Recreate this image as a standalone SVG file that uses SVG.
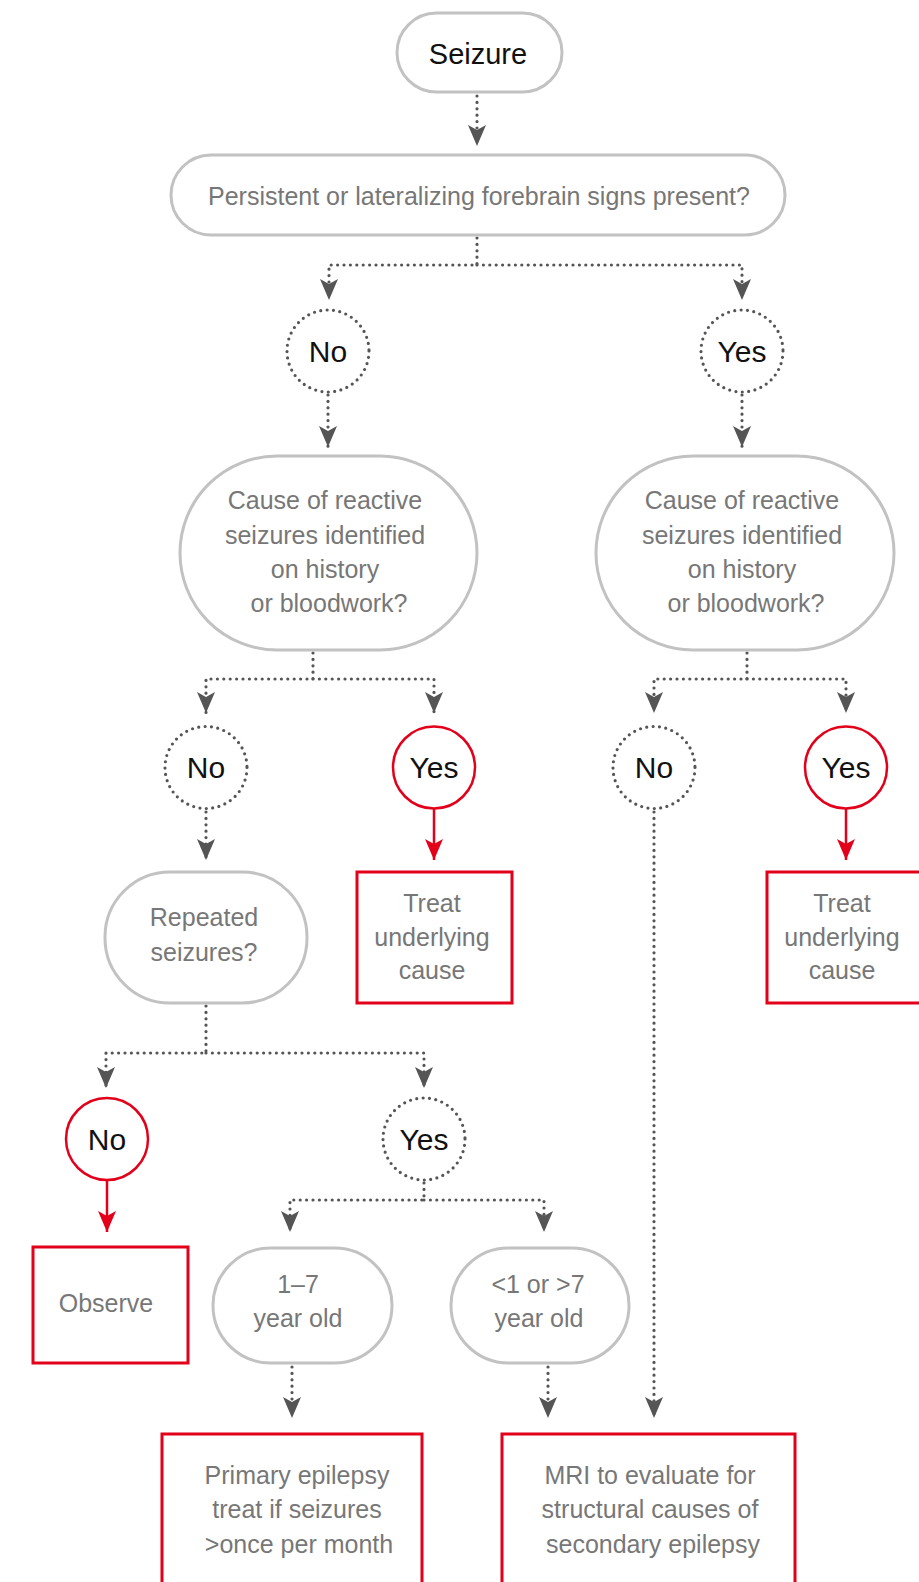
<svg xmlns="http://www.w3.org/2000/svg" width="919" height="1582" viewBox="0 0 919 1582">
<style>
.pill{fill:#fff;stroke:#c2c2c2;stroke-width:3}
.box{fill:#fff;stroke:#e2001a;stroke-width:3}
.rc{fill:#fff;stroke:#e2001a;stroke-width:2.5}
.dc{fill:#fff;stroke:#555;stroke-width:3.2;stroke-dasharray:0 6.4;stroke-linecap:round}
.t{font-family:"Liberation Sans",Arial,sans-serif;font-size:25px;fill:#777;text-anchor:middle}
.lb{font-family:"Liberation Sans",Arial,sans-serif;font-size:30px;fill:#111;text-anchor:middle}
.sz{font-family:"Liberation Sans",Arial,sans-serif;font-size:29px;fill:#111;text-anchor:middle}
.dl{fill:none;stroke:#555;stroke-width:3.2;stroke-dasharray:0 6.4;stroke-linecap:round;stroke-linejoin:round}
.rl{fill:none;stroke:#e2001a;stroke-width:2.5}
</style>
<defs>
<marker id="ag" markerUnits="userSpaceOnUse" viewBox="-22 -10 24 20" refX="0" refY="0" markerWidth="24" markerHeight="20" orient="auto">
<path d="M0,0 L-21,-9 L-16,0 L-21,9 Z" fill="#555"/>
</marker>
<marker id="ar" markerUnits="userSpaceOnUse" viewBox="-22 -10 24 20" refX="0" refY="0" markerWidth="24" markerHeight="20" orient="auto">
<path d="M0,0 L-21,-9 L-16,0 L-21,9 Z" fill="#e2001a"/>
</marker>
</defs>

<g id="connectors">
<path class="dl" d="M477,96 V146" marker-end="url(#ag)"/>
<path class="dl" d="M477,238 V265 H329 V300" marker-end="url(#ag)"/>
<path class="dl" d="M477,265 H742 V300" marker-end="url(#ag)"/>
<path class="dl" d="M328,395 V447" marker-end="url(#ag)"/>
<path class="dl" d="M742,395 V447" marker-end="url(#ag)"/>
<path class="dl" d="M313,653 V679 H206 V713" marker-end="url(#ag)"/>
<path class="dl" d="M313,679 H434 V713" marker-end="url(#ag)"/>
<path class="dl" d="M747,653 V679 H654 V713" marker-end="url(#ag)"/>
<path class="dl" d="M747,679 H846 V713" marker-end="url(#ag)"/>
<path class="dl" d="M206,812 V860" marker-end="url(#ag)"/>
<path class="rl" d="M434,809 V860" marker-end="url(#ar)"/>
<path class="rl" d="M846,809 V860" marker-end="url(#ar)"/>
<path class="dl" d="M654,812 V1418" marker-end="url(#ag)"/>
<path class="dl" d="M206,1006 V1053 H106 V1088" marker-end="url(#ag)"/>
<path class="dl" d="M206,1053 H424 V1088" marker-end="url(#ag)"/>
<path class="rl" d="M107,1180 V1232" marker-end="url(#ar)"/>
<path class="dl" d="M424,1183 V1200 H290 V1232" marker-end="url(#ag)"/>
<path class="dl" d="M424,1200 H544 V1232" marker-end="url(#ag)"/>
<path class="dl" d="M292,1367 V1418" marker-end="url(#ag)"/>
<path class="dl" d="M548,1367 V1418" marker-end="url(#ag)"/>
</g>

<g id="seizure">
<rect class="pill" x="397" y="13" width="165" height="79" rx="39.5"/>
<text class="sz" x="478" y="64">Seizure</text>
</g>
<g id="persistent">
<rect class="pill" x="171" y="155" width="614" height="80" rx="40"/>
<text class="t" x="479" y="205">Persistent or lateralizing forebrain signs present?</text>
</g>
<g id="no1">
<circle class="dc" cx="328" cy="351" r="41"/>
<text class="lb" x="328" y="362">No</text>
</g>
<g id="yes1">
<circle class="dc" cx="742" cy="351" r="41"/>
<text class="lb" x="742" y="362">Yes</text>
</g>
<g id="cause-left">
<rect class="pill" x="180" y="456" width="297" height="194" rx="97"/>
<text class="t" x="325" y="509">Cause of reactive</text>
<text class="t" x="325" y="544">seizures identified</text>
<text class="t" x="325" y="578">on history</text>
<text class="t" x="329" y="612">or bloodwork?</text>
</g>
<g id="cause-right">
<rect class="pill" x="596" y="456" width="298" height="194" rx="97"/>
<text class="t" x="742" y="509">Cause of reactive</text>
<text class="t" x="742" y="544">seizures identified</text>
<text class="t" x="742" y="578">on history</text>
<text class="t" x="746" y="612">or bloodwork?</text>
</g>
<g id="no2l">
<circle class="dc" cx="206" cy="767.5" r="41"/>
<text class="lb" x="206" y="778">No</text>
</g>
<g id="yes2l">
<circle class="rc" cx="434" cy="767.5" r="41"/>
<text class="lb" x="434" y="778">Yes</text>
</g>
<g id="no2r">
<circle class="dc" cx="654" cy="767.5" r="41"/>
<text class="lb" x="654" y="778">No</text>
</g>
<g id="yes2r">
<circle class="rc" cx="846" cy="767.5" r="41"/>
<text class="lb" x="846" y="778">Yes</text>
</g>
<g id="treat-left">
<rect class="box" x="357" y="872" width="155" height="131"/>
<text class="t" x="432" y="912">Treat</text>
<text class="t" x="432" y="946">underlying</text>
<text class="t" x="432" y="979">cause</text>
</g>
<g id="treat-right">
<rect class="box" x="767" y="872" width="156" height="131"/>
<text class="t" x="842" y="912">Treat</text>
<text class="t" x="842" y="946">underlying</text>
<text class="t" x="842" y="979">cause</text>
</g>
<g id="repeated">
<rect class="pill" x="105" y="872" width="202" height="131" rx="65"/>
<text class="t" x="204" y="926">Repeated</text>
<text class="t" x="204" y="961">seizures?</text>
</g>
<g id="no3">
<circle class="rc" cx="107" cy="1139" r="41"/>
<text class="lb" x="107" y="1150">No</text>
</g>
<g id="yes3">
<circle class="dc" cx="424" cy="1139" r="41"/>
<text class="lb" x="424" y="1150">Yes</text>
</g>
<g id="observe">
<rect class="box" x="33" y="1247" width="155" height="116"/>
<text class="t" x="106" y="1312">Observe</text>
</g>
<g id="age-1-7">
<rect class="pill" x="213" y="1248" width="179" height="115" rx="57.5"/>
<text class="t" x="298" y="1293">1–7</text>
<text class="t" x="298" y="1327">year old</text>
</g>
<g id="age-other">
<rect class="pill" x="451" y="1248" width="178" height="115" rx="57.5"/>
<text class="t" x="538" y="1293">&lt;1 or &gt;7</text>
<text class="t" x="539" y="1327">year old</text>
</g>
<g id="primary">
<rect class="box" x="162" y="1434" width="260" height="200"/>
<text class="t" x="297" y="1484">Primary epilepsy</text>
<text class="t" x="297" y="1518">treat if seizures</text>
<text class="t" x="299" y="1553">&gt;once per month</text>
</g>
<g id="mri">
<rect class="box" x="502" y="1434" width="293" height="200"/>
<text class="t" x="650" y="1484">MRI to evaluate for</text>
<text class="t" x="650" y="1518">structural causes of</text>
<text class="t" x="653" y="1553">secondary epilepsy</text>
</g>
</svg>
